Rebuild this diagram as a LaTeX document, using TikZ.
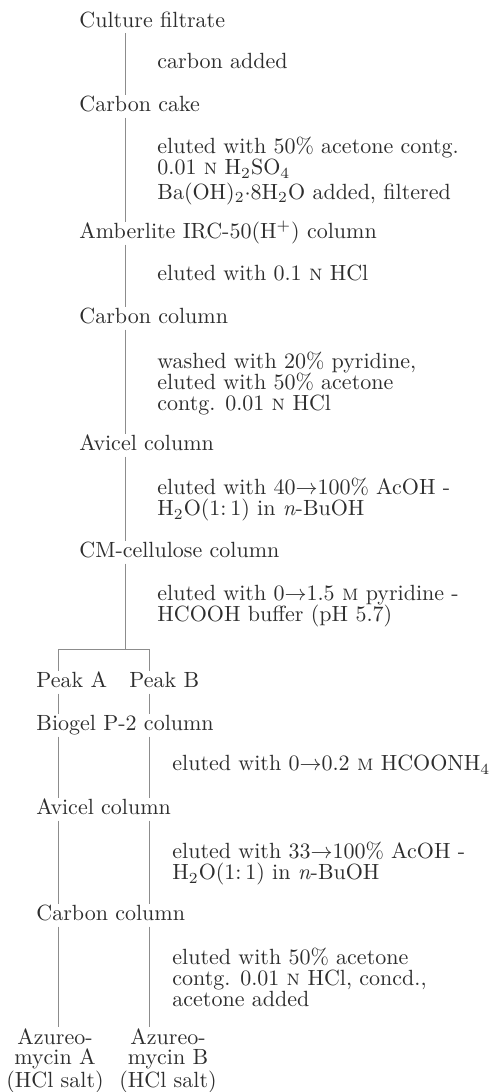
\documentclass[tikz,border=0pt]{standalone}
\usepackage{tikz}
\usepackage{xcolor}
\usetikzlibrary{positioning, calc}
\definecolor{inkcolor}{RGB}{45,45,45}
\definecolor{linecolor}{RGB}{140,140,140}

\begin{document}
\begin{tikzpicture}[x=0.4545pt, y=-0.4545pt, scale=2.2,
    every node/.style={transform shape, text=inkcolor, font=\fontsize{10pt}{9.55pt}\selectfont},
    stage/.style={anchor=base west, inner xsep=0pt, inner ysep=0.45pt, text height=6.8pt, text depth=2.3pt},
    note/.style={anchor=north west, inner sep=0pt, align=left},
    product/.style={anchor=north, inner sep=0.45pt, align=center, font=\fontsize{10pt}{9.1pt}\selectfont},
    flow/.style={draw=linecolor, line width=0.7pt}]

    \useasboundingbox (0,0) rectangle (494,1092);

    % Guide coordinates
    \coordinate (trunk) at (125,0);
    \coordinate (colA) at (58,0);
    \coordinate (colB) at (149,0);
    \coordinate (split) at (125,649);

    % Purification stages
    \node [stage] (cf) at (79,27) {Culture filtrate};
    \node [stage] (cake) at (79,111) {Carbon cake};
    \node [stage] (irc) at (79,238) {Amberlite IRC-50(H\textsuperscript{+}) column};
    \node [stage] (carbon) at (79,323) {Carbon column};
    \node [stage] (avicel) at (79,450) {Avicel column};
    \node [stage] (cm) at (79,557) {CM-cellulose column};

    % Treatments
    \node [note] (n1) at (157,53) {carbon added};
    \node [note] (n2) at (157,137) {eluted with 50\% acetone contg.\\0.01 \textsc{n} H\textsubscript{2}SO\textsubscript{4}\\[1.6pt]Ba(OH)\textsubscript{2}$\cdot$8H\textsubscript{2}O added, filtered};
    \node [note] (n3) at (157,265) {eluted with 0.1 \textsc{n} HCl};
    \node [note] (n4) at (157,352) {washed with 20\% pyridine,\\eluted with 50\% acetone\\contg. 0.01 \textsc{n} HCl};
    \node [note] (n5) at (157,478) {eluted with 40$\rightarrow$100\% AcOH -\\H\textsubscript{2}O(1:\,1) in \textit{n}-BuOH};
    \node [note] (n6) at (157,585) {eluted with 0$\rightarrow$1.5 \textsc{m} pyridine -\\HCOOH buffer (pH 5.7)};

    % Peaks and their columns
    \node [stage] (peakA) at (36,687) {Peak A};
    \node [stage] (peakB) at (129,687) {Peak B};
    \node [stage] (biogel) at (36,730) {Biogel P-2 column};
    \node [stage] (avicelb) at (36,814) {Avicel column};
    \node [stage] (carbonb) at (36,920) {Carbon column};

    \node [note] (n7) at (172,755) {eluted with 0$\rightarrow$0.2 \textsc{m} HCOONH\textsubscript{4}};
    \node [note] (n8) at (172,842) {eluted with 33$\rightarrow$100\% AcOH -\\H\textsubscript{2}O(1:\,1) in \textit{n}-BuOH};
    \node [note] (n9) at (172,948) {eluted with 50\% acetone\\contg. 0.01 \textsc{n} HCl, concd.,\\acetone added};

    % Products
    \node [product] (prodA) at (55,1027) {Azureo-\\mycin A\\(HCl salt)};
    \node [product] (prodB) at (168,1027) {Azureo-\\mycin B\\(HCl salt)};

    % Connectors
    \foreach \a/\b in {cf/cake, cake/irc, irc/carbon, carbon/avicel, avicel/cm}
        \draw [flow] (\a.south -| trunk) -- (\b.north -| trunk);
    \draw [flow] (cm.south -| trunk) -- (split);
    \draw [flow] (colA |- peakA.north) |- (split) -| (colB |- peakB.north);
    \foreach \a/\b in {peakA/biogel, biogel/avicelb, avicelb/carbonb, carbonb/prodA}
        \draw [flow] (colA |- \a.south) -- (colA |- \b.north);
    \foreach \a/\b in {peakB/biogel, biogel/avicelb, avicelb/carbonb, carbonb/prodB}
        \draw [flow] (colB |- \a.south) -- (colB |- \b.north);

\end{tikzpicture}
\end{document}
